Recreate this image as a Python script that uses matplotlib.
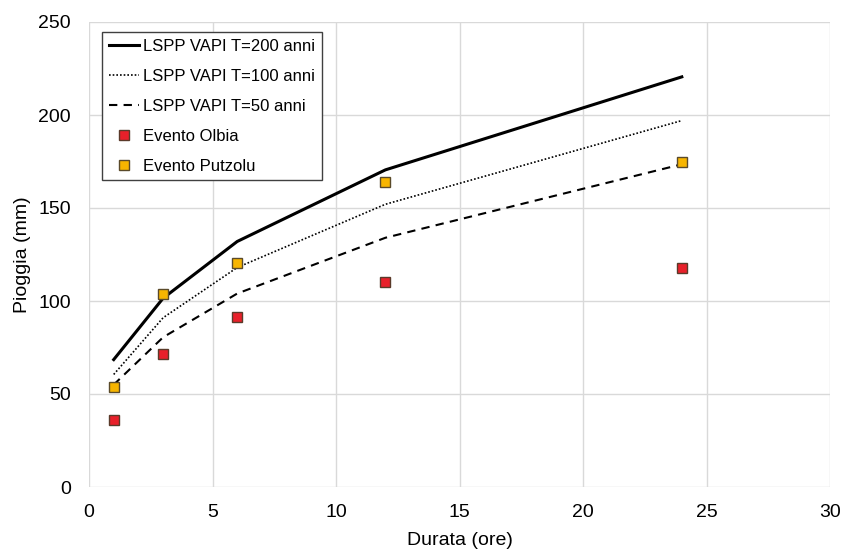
import matplotlib
matplotlib.use("Agg")
import matplotlib.pyplot as plt

plt.rcParams['font.family'] = ['Liberation Sans', 'DejaVu Sans']

durata = [1, 3, 6, 12, 24]
t200 = [68.5, 101.5, 132, 170.5, 220.5]
t100 = [60.5, 91, 118, 152, 197]
t50 = [55, 80.5, 104, 134, 173.5]
olbia = [36, 71.5, 91.5, 110, 117.5]
putzolu = [54, 103.5, 120.5, 164, 175]

fig = plt.figure(figsize=(8.44, 5.52), dpi=100)
ax = fig.add_axes([89/844, 1-487/552, (830-89)/844, (487-22)/552])

ax.plot(durata, t200, color='black', lw=2.2, ls='-', label='LSPP VAPI T=200 anni', zorder=3)
ax.plot(durata, t100, color='black', lw=1.2, ls=(0, (1, 1.2)), label='LSPP VAPI T=100 anni', zorder=3)
ax.plot(durata, t50, color='black', lw=1.5, ls=(0, (4, 3)), label='LSPP VAPI T=50 anni', zorder=3)
ax.plot(durata, olbia, ls='none', marker='s', ms=7, mfc='#e8202a', mec='#5a3a2a', mew=1, label='Evento Olbia', zorder=4)
ax.plot(durata, putzolu, ls='none', marker='s', ms=7, mfc='#f7b500', mec='#5a4a2a', mew=1, label='Evento Putzolu', zorder=4)

ax.set_xlim(0, 30)
ax.set_ylim(0, 250)
ax.set_xticks(range(0, 31, 5))
ax.set_yticks(range(0, 251, 50))
ax.grid(True, color='#d9d9d9', lw=1)
ax.set_axisbelow(True)
for s in ax.spines.values():
    s.set_visible(False)
ax.tick_params(axis='y', length=0, labelsize=14, colors='#000000', pad=13)
ax.tick_params(axis='x', length=0, labelsize=14, colors='#000000', pad=12)
ax.set_xlabel('Durata (ore)', fontsize=14, labelpad=8.5)
ax.set_ylabel('Pioggia (mm)', fontsize=14, labelpad=5)

leg = ax.legend(loc='upper left', bbox_to_anchor=(13/741, 1 - 10/465), fontsize=12, frameon=True,
                fancybox=False, edgecolor='#404040', framealpha=1, handlelength=1.8,
                handletextpad=0.25, borderpad=0.4, labelspacing=0.9, borderaxespad=0)
leg.get_frame().set_linewidth(1)

fig.savefig('out.png', dpi=100)
